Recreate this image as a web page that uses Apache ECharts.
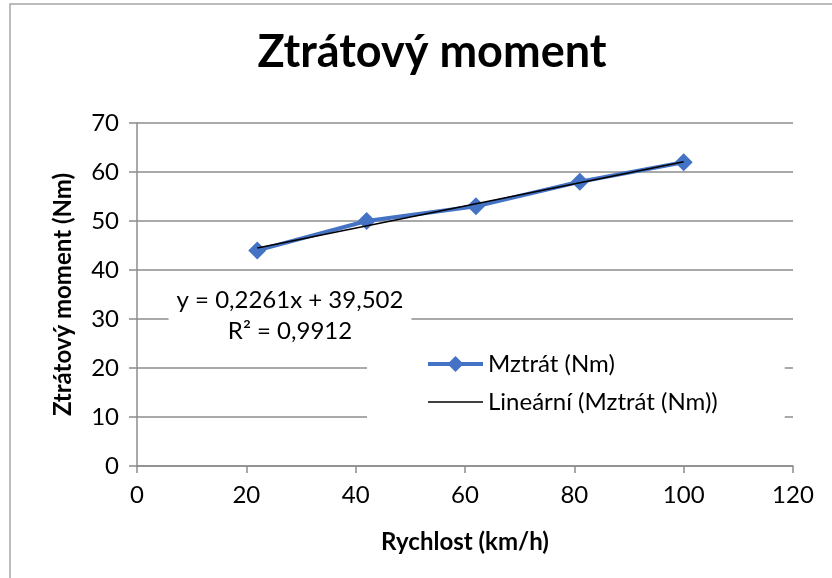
<!DOCTYPE html>
<html>
<head>
<meta charset="utf-8">
<script src="https://cdn.jsdelivr.net/npm/echarts@6/dist/echarts.min.js"></script>
<style>
  html, body { margin: 0; padding: 0; background: #fff; }
  #chart { width: 832px; height: 578px; }
</style>
</head>
<body>
<div id="chart"></div>
<script>
// rychlost (km/h)
var speed = [22, 42, 62, 81, 100];
// Mztrát (Nm)
var torque = [44, 50, 53, 58, 62];
// lineární trend - krajní body
var trendX = [22, 100];
var trendY = [44.5, 62.1];
// popisky
var seriesNames = ['Mztrát (Nm)', 'Lineární (Mztrát (Nm))'];
var equationLines = ['y = 0,2261x + 39,502', 'R² = 0,9912'];

var font = 'Lato, "Open Sans", sans-serif';
var gridColor = '#8c8c8c';

var mainData = [];
for (var i = 0; i < speed.length; i++) {
    mainData.push([speed[i], torque[i]]);
}
var trendData = [];
for (var j = 0; j < trendX.length; j++) {
    trendData.push([trendX[j], trendY[j]]);
}

var chart = echarts.init(document.getElementById('chart'), null, { renderer: 'canvas' });
var option = {
    backgroundColor: '#fff',
    animation: false,
    textStyle: { fontFamily: font, color: '#000' },
    title: [
        {
            text: 'Ztrátový moment',
            left: 427,
            top: 25,
            textAlign: 'center',
            textStyle: { fontFamily: font, fontSize: 45, fontWeight: 'bold', color: '#000' }
        },
        {
            text: equationLines.join('\n'),
            left: 282,
            top: 283,
            textAlign: 'center',
            backgroundColor: '#fff',
            padding: [2, 8, 8, 8],
            textStyle: { fontFamily: font, fontSize: 24, fontWeight: 'normal', lineHeight: 31, color: '#000' }
        }
    ],
    grid: {
        left: 137,
        right: 39,
        top: 123,
        bottom: 112,
        containLabel: false
    },
    legend: {
        orient: 'vertical',
        left: 367,
        top: 340,
        padding: [12, 67, 14, 59],
        backgroundColor: '#fff',
        itemWidth: 55,
        itemHeight: 20,
        itemGap: 14,
        textStyle: { fontFamily: font, fontSize: 24, color: '#000' },
        data: [
            { name: seriesNames[0], lineStyle: { width: 4 } },
            { name: seriesNames[1], itemStyle: { opacity: 0 }, lineStyle: { width: 1.5 } }
        ]
    },
    xAxis: {
        type: 'value',
        min: 0,
        max: 120,
        interval: 20,
        name: 'Rychlost (km/h)',
        nameLocation: 'middle',
        nameGap: 64,
        nameTextStyle: { fontFamily: font, fontSize: 24, fontWeight: 'bold', color: '#000' },
        axisLine: { show: true, lineStyle: { color: gridColor, width: 1.5 } },
        axisTick: { show: true, length: 7, lineStyle: { color: gridColor, width: 1.5 } },
        axisLabel: { fontFamily: font, fontSize: 24, color: '#000', margin: 17 },
        splitLine: { show: false }
    },
    yAxis: {
        type: 'value',
        min: 0,
        max: 70,
        interval: 10,
        name: 'Ztrátový moment (Nm)',
        nameLocation: 'middle',
        nameGap: 62,
        nameTextStyle: { fontFamily: font, fontSize: 24, fontWeight: 'bold', color: '#000' },
        axisLine: { show: true, lineStyle: { color: gridColor, width: 1.5 } },
        axisTick: { show: true, length: 8, lineStyle: { color: gridColor, width: 1.5 } },
        axisLabel: { fontFamily: font, fontSize: 24, color: '#000', margin: 18 },
        splitLine: { show: true, lineStyle: { color: gridColor, width: 1.5 } }
    },
    graphic: [
        {
            type: 'rect',
            shape: { x: 10, y: 4, width: 900, height: 700 },
            style: { fill: 'none', stroke: '#a6a6a6', lineWidth: 1.5 },
            silent: true
        }
    ],
    series: [
        {
            name: seriesNames[0],
            type: 'line',
            data: mainData,
            symbol: 'diamond',
            symbolSize: 18,
            showSymbol: true,
            lineStyle: { color: '#4472c4', width: 4 },
            itemStyle: { color: '#4472c4' },
            z: 2
        },
        {
            name: seriesNames[1],
            type: 'line',
            data: trendData,
            symbol: 'none',
            lineStyle: { color: '#000', width: 1.5 },
            itemStyle: { color: '#000' },
            z: 3
        }
    ]
};
chart.setOption(option);
</script>
</body>
</html>
